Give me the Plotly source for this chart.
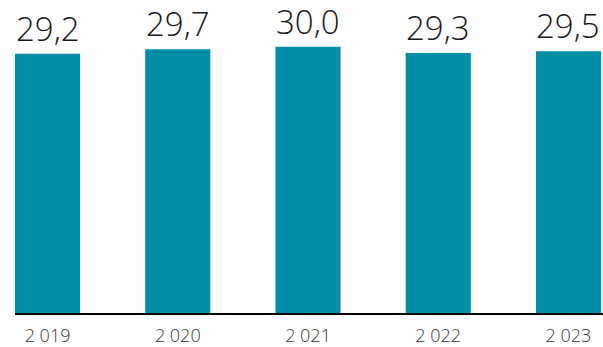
import plotly.graph_objects as go

years = ["2 019", "2 020", "2 021", "2 022", "2 023"]
values = [29.2, 29.7, 30.0, 29.3, 29.5]
labels = [f"{v:.1f}".replace(".", ",") for v in values]

BAR_COLOR = "#008FA9"

fig = go.Figure(
    go.Bar(
        x=years,
        y=values,
        marker=dict(color=BAR_COLOR, line=dict(width=0)),
        width=0.5,
        hoverinfo="skip",
    )
)

for yr, v, lab in zip(years, values, labels):
    fig.add_annotation(
        x=yr, y=v, text=lab, showarrow=False,
        yanchor="bottom", yshift=2, borderpad=0,
        font=dict(family="Open Sans", size=33, color="#1a1a1a", weight=300),
    )

fig.update_layout(
    width=603, height=347,
    margin=dict(l=15, r=0, t=0, b=34),
    paper_bgcolor="white", plot_bgcolor="white",
    showlegend=False,
    xaxis=dict(
        type="category", range=[-0.25, 4.265],
        showline=True, linecolor="#000", linewidth=2,
        showgrid=False, ticks="", ticklabelstandoff=5,
        tickfont=dict(family="Open Sans", size=18, color="#333", weight=300),
    ),
    yaxis=dict(range=[0, 35.26], visible=False, fixedrange=True),
)

fig.write_html("out.html")
